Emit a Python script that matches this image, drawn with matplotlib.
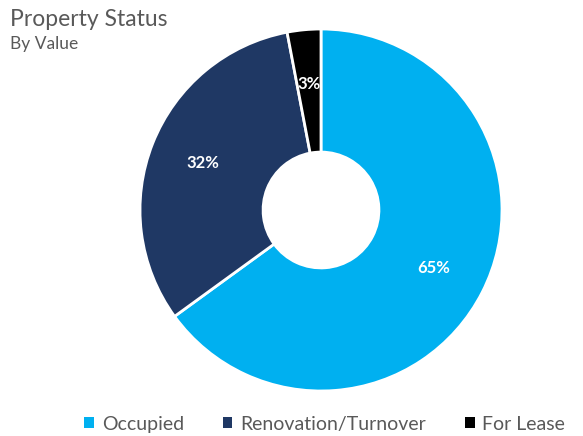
import matplotlib.pyplot as plt
from matplotlib.patches import Patch

plt.rcParams['font.family'] = ['Lato', 'DejaVu Sans']

labels = ['Occupied', 'Renovation/Turnover', 'For Lease']
values = [65, 32, 3]
colors = ['#00b0f0', '#1f3864', '#000000']

fig = plt.figure(figsize=(5.83, 4.36), dpi=100)
W, H = 583, 436
cx, cy, r = 321, 210, 181
ax = fig.add_axes([(cx - r) / W, (H - cy - r) / H, 2 * r / W, 2 * r / H])

wedges, texts, autotexts = ax.pie(
    values, colors=colors, startangle=90, counterclock=False,
    autopct='%1.0f%%', pctdistance=0.70, radius=1.0,
    wedgeprops=dict(width=0.68, edgecolor='white', linewidth=2),
    textprops=dict(color='white', fontsize=12, fontweight='bold'))
ax.set_xlim(-1, 1)
ax.set_ylim(-1, 1)
ax.set_aspect('equal')

fig.text(10 / W, 1 - 19 / H, 'Property Status', fontsize=16.5, color='#595959', va='center')
fig.text(10 / W, 1 - 44 / H, 'By Value', fontsize=12.5, color='#595959', va='center')

handles = [Patch(facecolor=c, edgecolor='none') for c in colors]
fig.legend(handles, labels, loc='center', bbox_to_anchor=(0.557, 1 - 424 / H),
           ncol=3, frameon=False, fontsize=14, handlelength=0.5, handleheight=0.5,
           handletextpad=0.4, columnspacing=2.0, labelcolor='#595959')

fig.savefig('out.png', dpi=100)
